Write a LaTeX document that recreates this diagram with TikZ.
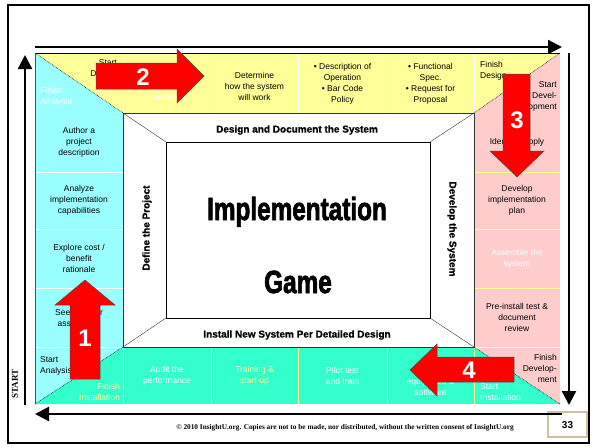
\documentclass[tikz,border=0pt]{standalone}
\usepackage{fontspec}
\setmainfont{Liberation Sans}
\newfontfamily\copyfont{Liberation Serif}
\newfontfamily\heavyfont[FakeBold=2.5]{Liberation Sans}
\newfontfamily\blackfont[FakeBold=0.8]{Liberation Sans}
\usepackage{tikz}
\usetikzlibrary{arrows.meta}
\tikzset{>=latex}
\definecolor{padyellow}{HTML}{FFFF99}
\definecolor{padcyan}{HTML}{99FFFF}
\definecolor{padpink}{HTML}{FFCCCC}
\definecolor{padgreen}{HTML}{33FFCC}
\definecolor{boxtan}{HTML}{CCC29E}
\tikzset{
  celltxt/.style={font=\fontsize{8.5}{11}\selectfont, align=center, inner sep=0pt},
  sidelbl/.style={font=\blackfont\bfseries\fontsize{10}{12}\selectfont, inner sep=0pt},
  gamelbl/.style={font=\heavyfont\bfseries\fontsize{32}{32}\selectfont, xscale=0.76, inner sep=0pt, anchor=base},
  bignum/.style={font=\bfseries\fontsize{24}{24}\selectfont, text=white, inner sep=0pt},
  redarrow/.style={fill=red, draw=black!70, line width=0.5pt},
  flowarrow/.style={line width=2.2pt, -{Triangle[length=14pt,width=14pt]}},
}

\begin{document}
\begin{tikzpicture}[x=1pt, y=-1pt]
    \useasboundingbox (0,0) rectangle (592,447);
    \draw[line width=1.5pt] (8,5) rectangle (589,443);
    % page number box
    \draw[boxtan, line width=2pt, fill=white] (548,412) rectangle (587,437);
    \node[font=\bfseries\fontsize{10}{10}\selectfont] (pagenum) at (567.5,425) {33};
    \node[font=\copyfont\bfseries\fontsize{7.3}{7.3}\selectfont] (copyline) at (345,428)
        {\textcopyright{} 2010 InsightU.org. Copies are not to be made, nor distributed, without the written consent of InsightU.org};
    \node[font=\copyfont\bfseries\fontsize{9}{9}\selectfont, rotate=90] (startlbl) at (15,384) {START};
    % flow round the board
    \coordinate (topL) at (35,47);
    \coordinate (topR) at (562,47);
    \coordinate (rgtT) at (569,53);
    \coordinate (rgtB) at (569,405);
    \coordinate (botR) at (562,414);
    \coordinate (botL) at (35,414);
    \coordinate (lftB) at (25,405);
    \coordinate (lftT) at (25,55);
    \draw[flowarrow] (topL) -- (topR);
    \draw[flowarrow] (rgtT) -- (rgtB);
    \draw[flowarrow] (botR) -- (botL);
    \draw[flowarrow] (lftB) -- (lftT);
    % board fields
    \fill[padyellow] (123,53) rectangle (474,113);
    \fill[padcyan] (35,113) rectangle (123,347);
    \fill[padpink] (474,113) rectangle (560,347);
    \fill[padgreen] (123,347) rectangle (474,404);
    \fill[padyellow] (35,53) -- (123,53) -- (123,113) -- cycle;
    \fill[padcyan] (35,53) -- (123,113) -- (35,113) -- cycle;
    \fill[padyellow] (474,53) -- (560,53) -- (474,113) -- cycle;
    \fill[padpink] (560,53) -- (560,113) -- (474,113) -- cycle;
    \fill[padpink] (474,347) -- (560,347) -- (560,404) -- cycle;
    \fill[padgreen] (474,347) -- (474,404) -- (560,404) -- cycle;
    \fill[padcyan] (35,347) -- (123,347) -- (35,404) -- cycle;
    \fill[padgreen] (123,347) -- (123,404) -- (35,404) -- cycle;
    \foreach \x in {123,211,298,387,474}{
        \draw[white, line width=0.8pt] (\x,53) -- (\x,113);
        \draw[padyellow, line width=0.8pt] (\x,347) -- (\x,404);
    }
    \foreach \y in {172,229,288,347}{
        \draw[white, line width=0.8pt] (35,\y) -- (123,\y);
        \draw[padyellow, line width=0.8pt] (474,\y) -- (560,\y);
    }
    \draw[densely dotted, line width=0.6pt] (35,53) -- (123,113);
    \draw[densely dotted, line width=0.6pt] (474,113) -- (560,53);
    \draw[densely dotted, line width=0.6pt] (474,347) -- (560,404);
    \draw[densely dotted, line width=0.6pt] (35,404) -- (123,347);
    \draw[line width=0.8pt] (35,53) -- (560,53);
    \draw[black!70, line width=0.8pt] (35,53) -- (35,404);
    % centre of the board
    \draw[black!80, line width=0.8pt, fill=white] (123,113) rectangle (474,347);
    \draw[line width=1pt] (166,142) rectangle (430,318);
    \draw[black!80] (123,113) -- (166,142);
    \draw[black!80] (474,113) -- (430,142);
    \draw[black!80] (123,347) -- (166,318);
    \draw[black!80] (474,347) -- (430,318);
    \node[sidelbl] (designlbl) at (297,130) {Design and Document the System};
    \node[sidelbl] (installlbl) at (297,335) {Install New System Per Detailed Design};
    \node[sidelbl, rotate=90] (definelbl) at (147,228) {Define the Project};
    \node[sidelbl, rotate=-90] (developlbl) at (452,229) {Develop the System};
    \node[gamelbl] (titleA) at (297,220) {Implementation};
    \node[gamelbl] (titleB) at (298,293) {Game};
    % top row
    \node[celltxt, align=right, anchor=east] (startdesign) at (117,69) {Start\\Design};
    \node[celltxt, align=left, anchor=west, text=white] (finanalysis) at (40,97) {Finish\\Analysis};
    \node[celltxt, text=white] (interfaces) at (167,86) {Define inputs \&\\system\\interfaces};
    \node[celltxt] (determine) at (254.5,86) {Determine\\how the system\\will work};
    \node[celltxt] (operation) at (342.5,84) {\textbullet{} Description of\\Operation\\\textbullet{} Bar Code\\Policy};
    \node[celltxt] (funcspec) at (430.5,84) {\textbullet{} Functional\\Spec.\\\textbullet{} Request for\\Proposal};
    \node[celltxt, align=left, anchor=west] (findesign) at (480,71) {Finish\\Design};
    \node[celltxt, align=right, anchor=east] (startdevel) at (557,96) {Start\\Devel-\\opment};
    % left column
    \node[celltxt] (author) at (79,142.5) {Author a\\project\\description};
    \node[celltxt] (analyze) at (79,200.5) {Analyze\\implementation\\capabilities};
    \node[celltxt] (explore) at (79,258.5) {Explore cost /\\benefit\\rationale};
    \node[celltxt] (seekvendor) at (79,317.5) {Seek vendor\\association};
    \node[celltxt, align=left, anchor=west] (startanalysis) at (40,366) {Start\\Analysis};
    \node[celltxt, align=right, anchor=east, text=padyellow] (fininstall) at (120,392) {Finish\\Installation};
    % right column
    \node[celltxt] (identify) at (517,142.5) {Identify supply};
    \node[celltxt] (devplan) at (517,200.5) {Develop\\implementation\\plan};
    \node[celltxt, text=white] (assemble) at (517,258.5) {Assemble the\\system};
    \node[celltxt] (preinstall) at (517,317.5) {Pre-install test \&\\document\\review};
    \node[celltxt, align=right, anchor=east] (findevel) at (557,368) {Finish\\Develop-\\ment};
    \node[celltxt, align=left, anchor=west, text=white] (startinstall) at (480,392) {Start\\Installation};
    % bottom row
    \node[celltxt, text=white] (audit) at (167,376) {Audit the\\performance};
    \node[celltxt, text=padyellow] (training) at (254.5,376) {Training \&\\start-up};
    \node[celltxt, text=white] (pilot) at (342.5,376) {Pilot test\\and train};
    \node[celltxt, text=white] (equipment) at (430.5,381) {Install\\equipment \&\\software};
    % numbered arrows
    \draw[redarrow] (70,379) -- (70,305) -- (55,305) -- (85,280) -- (115,305) -- (100,305) -- (100,379) -- cycle;
    \node[bignum] (stepA) at (85,338) {1};
    \draw[redarrow] (96,63) -- (177,63) -- (177,49) -- (204,76) -- (177,103) -- (177,89) -- (96,89) -- cycle;
    \node[bignum] (stepB) at (143,77) {2};
    \draw[redarrow] (503,74) -- (530,74) -- (530,151) -- (544,151) -- (517,177) -- (490,151) -- (503,151) -- cycle;
    \node[bignum] (stepC) at (517,120) {3};
    \draw[redarrow] (514,357) -- (437,357) -- (437,344) -- (410,370) -- (437,396) -- (437,382) -- (514,382) -- cycle;
    \node[bignum] (stepD) at (469,370) {4};
\end{tikzpicture}
\end{document}
